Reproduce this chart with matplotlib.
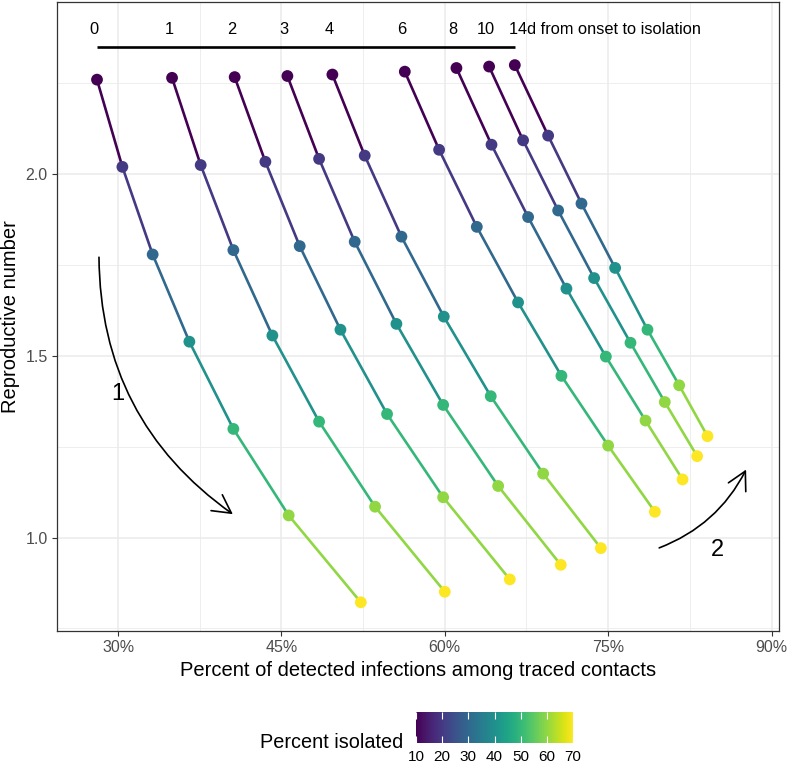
import numpy as np
import matplotlib
matplotlib.use("Agg")
import matplotlib.pyplot as plt
from matplotlib.patches import FancyArrowPatch
from matplotlib.colors import Normalize
from matplotlib.cm import ScalarMappable

plt.rcParams['font.family'] = ['Liberation Sans', 'DejaVu Sans']

# days from onset to isolation, one line per delay
delays = [0, 1, 2, 3, 4, 6, 8, 10, 14]
# percent isolated along each line
isolated = [10, 20, 30, 40, 50, 60, 70]

# percent of detected infections among traced contacts
pct_detected = [
    [28.07, 30.40, 33.18, 36.55, 40.59, 45.67, 52.29],
    [34.96, 37.59, 40.59, 44.17, 48.46, 53.60, 60.00],
    [40.71, 43.53, 46.68, 50.42, 54.70, 59.85, 65.97],
    [45.55, 48.46, 51.73, 55.56, 59.85, 64.90, 70.65],
    [49.68, 52.65, 56.02, 59.91, 64.22, 69.03, 74.33],
    [56.33, 59.48, 62.94, 66.73, 70.71, 75.00, 79.29],
    [61.07, 64.29, 67.65, 71.17, 74.79, 78.43, 81.83],
    [64.07, 67.19, 70.41, 73.71, 77.05, 80.20, 83.17],
    [66.43, 69.49, 72.55, 75.64, 78.61, 81.52, 84.12],
]
# reproductive number
repro = [
    [2.260, 2.020, 1.779, 1.539, 1.299, 1.061, 0.822],
    [2.265, 2.025, 1.791, 1.556, 1.319, 1.085, 0.851],
    [2.267, 2.034, 1.802, 1.572, 1.340, 1.111, 0.885],
    [2.270, 2.042, 1.814, 1.588, 1.365, 1.142, 0.925],
    [2.274, 2.051, 1.828, 1.608, 1.389, 1.176, 0.971],
    [2.282, 2.067, 1.855, 1.647, 1.445, 1.253, 1.071],
    [2.292, 2.081, 1.882, 1.685, 1.498, 1.322, 1.160],
    [2.296, 2.093, 1.900, 1.714, 1.536, 1.373, 1.224],
    [2.300, 2.106, 1.919, 1.742, 1.572, 1.419, 1.279],
]

x_ticks = [30, 45, 60, 75, 90]
y_ticks = [1.0, 1.5, 2.0]
cbar_ticks = [10, 20, 30, 40, 50, 60, 70]

W, H = 787, 766
fig = plt.figure(figsize=(W / 100, H / 100), dpi=100)
ax = fig.add_axes([56.7 / W, 1 - 631 / H, (778.5 - 56.7) / W, (631 - 1.5) / H])

cmap = plt.get_cmap('viridis')
norm = Normalize(vmin=10, vmax=70)

for xs, ys in zip(pct_detected, repro):
    for i in range(len(xs) - 1):
        ax.plot(xs[i:i + 2], ys[i:i + 2], color=cmap(norm(isolated[i])),
                lw=1.9, solid_capstyle='butt', zorder=2)
    ax.scatter(xs, ys, c=isolated, cmap=cmap, norm=norm, s=72,
               linewidths=0, zorder=3)

# bracket + delay labels along the top
label_y = 2.399
ax.plot([pct_detected[0][0], pct_detected[-1][0]], [2.351, 2.351],
        color='black', lw=1.9, solid_capstyle='butt')
for d, xs in zip(delays[:-1], pct_detected[:-1]):
    ax.text(xs[0] - 0.3, label_y, str(d), ha='center', va='center', fontsize=11.8)
ax.text(pct_detected[-1][0] - 0.5, label_y, f'{delays[-1]}d from onset to isolation',
        ha='left', va='center', fontsize=11.8)

# curved arrows
a1 = FancyArrowPatch((28.25, 1.779), (40.75, 1.060),
                     connectionstyle='arc3,rad=0.26',
                     arrowstyle='->,head_length=0.65,head_width=0.35',
                     mutation_scale=20, color='black', lw=1.2, zorder=4)
ax.add_patch(a1)
a2 = FancyArrowPatch((79.45, 0.969), (87.78, 1.194),
                     connectionstyle='arc3,rad=0.2',
                     arrowstyle='->,head_length=0.65,head_width=0.35',
                     mutation_scale=20, color='black', lw=1.2, zorder=4)
ax.add_patch(a2)
ax.text(29.94, 1.395, '1', ha='center', va='center', fontsize=17)
ax.text(85.02, 0.966, '2', ha='center', va='center', fontsize=17)

ax.set_xlim(24.37, 90.64)
ax.set_ylim(0.743, 2.475)
ax.set_xticks(x_ticks)
ax.set_xticklabels([f'{t}%' for t in x_ticks])
ax.set_yticks(y_ticks)
ax.set_yticklabels([f'{t:.1f}' for t in y_ticks])
ax.set_xticks([37.5, 52.5, 67.5, 82.5], minor=True)
ax.set_yticks([0.75, 1.25, 1.75, 2.25], minor=True)
ax.grid(which='major', color='#EBEBEB', lw=1.1, zorder=0)
ax.grid(which='minor', color='#EBEBEB', lw=0.6, zorder=0)
ax.set_axisbelow(True)
ax.tick_params(which='major', length=3.5, width=0.8, color='#333333',
               labelsize=11.5, labelcolor='#4D4D4D', pad=3)
ax.tick_params(which='minor', length=0)
for sp in ax.spines.values():
    sp.set_color('#333333')
    sp.set_linewidth(0.9)

ax.set_xlabel('Percent of detected infections among traced contacts', fontsize=14.5)
ax.set_ylabel('Reproductive number', fontsize=14.5)
ax.xaxis.set_label_coords(0.5, -(670 - 631) / 629.5)
ax.xaxis.label.set_va('center')
ax.yaxis.set_label_coords(-(56.7 - 11) / 721.8, 0.5)
ax.yaxis.label.set_va('center')

# colour bar legend
cax = fig.add_axes([416 / W, 1 - 742.7 / H, 157 / W, 31 / H])
cb = fig.colorbar(ScalarMappable(norm=norm, cmap=cmap), cax=cax,
                  orientation='horizontal', ticks=cbar_ticks)
cb.outline.set_visible(False)
cax.tick_params(direction='in', length=5, width=0.8, color='white',
                top=True, bottom=True, labelsize=11, labelcolor='black', pad=5.5)
fig.text(403 / W, 1 - 742 / H, 'Percent isolated', ha='right', va='center',
         fontsize=14.3)

fig.savefig('out.png', dpi=100)
